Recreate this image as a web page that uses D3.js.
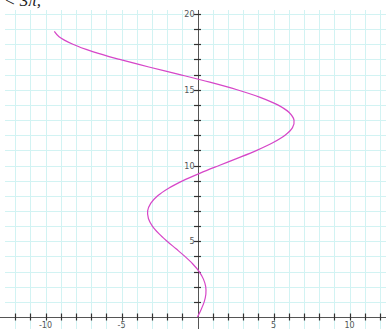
<!DOCTYPE html>
<html>
<head>
<meta charset="utf-8">
<script src="https://cdn.jsdelivr.net/npm/d3@7"></script>
<style>
  html, body { margin: 0; padding: 0; background: #fff; }
  svg { display: block; }
</style>
</head>
<body>
<script>
// Parametric curve x = t cos t, y = 2t sampled along its path
const curveX = [0, 0.24, 0.44, 0.55, 0.54, 0.39, 0.11, -0.31, -0.83, -1.41, -2.00, -2.54, -2.97, -3.23, -3.28, -3.08, -2.62, -1.90, -0.95, 0.18, 1.42, 2.69, 3.90, 4.95, 5.76, 6.25, 6.35, 6.03, 5.28, 4.12, 2.60, 0.81, -1.16, -3.20, -5.12, -6.85, -8.20, -9.11, -9.42];
const curveY = [0, 0.5, 1, 1.5, 2, 2.5, 3, 3.5, 4, 4.5, 5, 5.5, 6, 6.5, 7, 7.5, 8, 8.5, 9, 9.5, 10, 10.5, 11, 11.5, 12, 12.5, 13, 13.5, 14, 14.5, 15, 15.5, 16, 16.5, 17, 17.5, 18, 18.5, 18.85];
const xTickLabels = [-10, -5, 5, 10];
const yTickLabels = [5, 10, 15, 20];
const caption = "0 < t < 3π,";

const W = 386, H = 329;
const svg = d3.select("body").append("svg").attr("width", W).attr("height", H);

const x = d3.scaleLinear().domain([0, 10]).range([197.5, 349.5]);
const y = d3.scaleLinear().domain([0, 20]).range([317, 14]);

const xMin = Math.ceil(x.invert(0)), xMax = Math.floor(x.invert(W));
const yMin = Math.ceil(y.invert(H)), yMax = Math.floor(y.invert(10));

// grid
const grid = svg.append("g").attr("stroke", "#d2f3f3").attr("stroke-width", 1);
grid.selectAll("line.v").data(d3.range(xMin, xMax + 1)).join("line")
  .attr("x1", d => Math.round(x(d)) + 0.5).attr("x2", d => Math.round(x(d)) + 0.5)
  .attr("y1", 10).attr("y2", H);
grid.selectAll("line.h").data(d3.range(yMin, yMax + 1)).join("line")
  .attr("x1", 5).attr("x2", W)
  .attr("y1", d => Math.round(y(d)) + 0.5).attr("y2", d => Math.round(y(d)) + 0.5);

// axes
const axisColor = "#555";
svg.append("line").attr("x1", 0).attr("x2", W)
  .attr("y1", Math.round(y(0)) + 0.5).attr("y2", Math.round(y(0)) + 0.5)
  .attr("stroke", axisColor);
svg.append("line").attr("y1", 10).attr("y2", H)
  .attr("x1", Math.round(x(0)) + 0.5).attr("x2", Math.round(x(0)) + 0.5)
  .attr("stroke", axisColor);

const ticks = svg.append("g").attr("stroke", "#333").attr("stroke-width", 1.2);
ticks.selectAll("line.xt").data(d3.range(xMin, xMax + 1).filter(d => d !== 0)).join("line")
  .attr("x1", d => Math.round(x(d)) + 0.5).attr("x2", d => Math.round(x(d)) + 0.5)
  .attr("y1", y(0) - 3.5).attr("y2", y(0) + 3.5);
ticks.selectAll("line.yt").data(d3.range(1, yMax + 1)).join("line")
  .attr("y1", d => Math.round(y(d)) + 0.5).attr("y2", d => Math.round(y(d)) + 0.5)
  .attr("x1", x(0) - 3.5).attr("x2", x(0) + 3.5);

// tick labels
const lab = svg.append("g").attr("font-family", "DejaVu Sans, sans-serif")
  .attr("font-size", 8).attr("fill", "#555");
lab.selectAll("text.xl").data(xTickLabels).join("text")
  .attr("x", d => x(d)).attr("y", y(0) + 11).attr("text-anchor", "middle")
  .text(d => d);
lab.selectAll("text.yl").data(yTickLabels).join("text")
  .attr("x", x(0) - 3).attr("y", d => y(d) + 3).attr("text-anchor", "end")
  .text(d => d);

// curve
const pts = curveX.map((v, i) => [v, curveY[i]]);
svg.append("path").datum(pts)
  .attr("fill", "none").attr("stroke", "#d646c8").attr("stroke-width", 1.2)
  .attr("d", d3.line().x(d => x(d[0])).y(d => y(d[1])).curve(d3.curveCatmullRom));

// caption fragment at the top edge
svg.append("text").attr("x", 41).attr("y", 6).attr("text-anchor", "end")
  .attr("font-family", "Liberation Serif, serif").attr("font-size", 17)
  .attr("font-style", "italic").attr("fill", "#222").text(caption);
</script>
</body>
</html>
